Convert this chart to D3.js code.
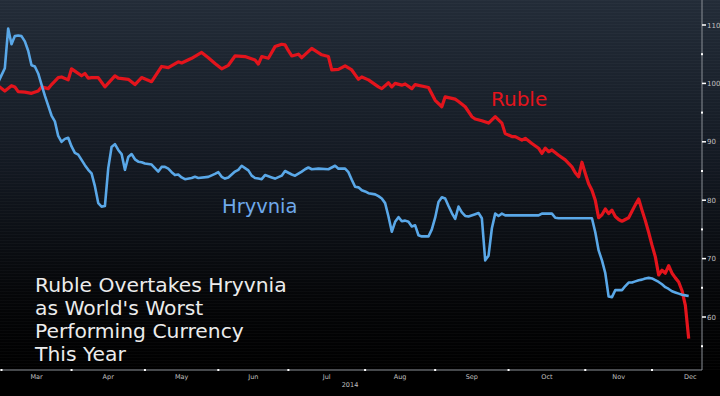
<!DOCTYPE html>
<html>
<head>
<meta charset="utf-8">
<script src="https://cdn.jsdelivr.net/npm/d3@7"></script>
<style>
  html, body { margin: 0; padding: 0; background: #000; }
  svg { display: block; }
</style>
</head>
<body>
<div id="chart"></div>
<script>
// DATA
// daily closes, indexed
const rublePoints = [
    ["2014-02-28", 99.6], ["2014-03-04", 98.7], ["2014-03-06", 99.6], ["2014-03-07", 99.4],
    ["2014-03-10", 98.6], ["2014-03-12", 98.5], ["2014-03-14", 98.3], ["2014-03-18", 98.7],
    ["2014-03-19", 99.4], ["2014-03-21", 99.1], ["2014-03-24", 99.8], ["2014-03-26", 101.0],
    ["2014-03-27", 101.1], ["2014-03-31", 100.6], ["2014-04-01", 102.5], ["2014-04-02", 102.1],
    ["2014-04-04", 101.3], ["2014-04-07", 101.7], ["2014-04-08", 100.9], ["2014-04-09", 101.0],
    ["2014-04-11", 101.0], ["2014-04-15", 99.4], ["2014-04-18", 101.3], ["2014-04-21", 100.9],
    ["2014-04-24", 100.7], ["2014-04-28", 99.8], ["2014-04-30", 101.0], ["2014-05-05", 100.3],
    ["2014-05-08", 102.9], ["2014-05-12", 102.7], ["2014-05-15", 103.7], ["2014-05-16", 103.5],
    ["2014-05-21", 104.3], ["2014-05-26", 105.3], ["2014-05-28", 104.4], ["2014-05-30", 103.4],
    ["2014-06-03", 102.5], ["2014-06-05", 103.1], ["2014-06-09", 104.7], ["2014-06-12", 104.6],
    ["2014-06-17", 104.0], ["2014-06-18", 103.3], ["2014-06-19", 104.6], ["2014-06-23", 104.3],
    ["2014-06-25", 106.3], ["2014-06-27", 106.7], ["2014-06-30", 106.6], ["2014-07-01", 105.6],
    ["2014-07-02", 104.7], ["2014-07-04", 105.0], ["2014-07-07", 104.4], ["2014-07-10", 106.0],
    ["2014-07-15", 104.9], ["2014-07-17", 104.6], ["2014-07-18", 102.3], ["2014-07-22", 102.4],
    ["2014-07-24", 103.0], ["2014-07-28", 102.3], ["2014-07-30", 100.7], ["2014-07-31", 101.1],
    ["2014-08-04", 100.6], ["2014-08-07", 99.4], ["2014-08-08", 99.1], ["2014-08-12", 100.1],
    ["2014-08-13", 99.4], ["2014-08-14", 100.0], ["2014-08-18", 99.7], ["2014-08-19", 99.9],
    ["2014-08-21", 99.1], ["2014-08-22", 99.8], ["2014-08-28", 99.3], ["2014-09-01", 97.1],
    ["2014-09-03", 96.0], ["2014-09-04", 97.7], ["2014-09-09", 97.3], ["2014-09-10", 96.9],
    ["2014-09-12", 96.0], ["2014-09-16", 94.3], ["2014-09-17", 93.9], ["2014-09-19", 93.6],
    ["2014-09-23", 93.2], ["2014-09-25", 94.3], ["2014-09-29", 93.2], ["2014-09-30", 91.4],
    ["2014-10-02", 90.9], ["2014-10-03", 90.9], ["2014-10-07", 90.3], ["2014-10-08", 90.6],
    ["2014-10-10", 89.7], ["2014-10-14", 88.9], ["2014-10-15", 88.0], ["2014-10-16", 88.9],
    ["2014-10-17", 88.3], ["2014-10-20", 88.6], ["2014-10-22", 87.7], ["2014-10-24", 86.9],
    ["2014-10-28", 85.7], ["2014-10-29", 84.7], ["2014-10-30", 84.0], ["2014-10-31", 86.5],
    ["2014-11-03", 84.6], ["2014-11-04", 82.8], ["2014-11-05", 81.7], ["2014-11-06", 80.0],
    ["2014-11-07", 77.0], ["2014-11-10", 77.5], ["2014-11-11", 78.5], ["2014-11-12", 77.7],
    ["2014-11-13", 78.3], ["2014-11-14", 77.2], ["2014-11-17", 76.7], ["2014-11-18", 76.4],
    ["2014-11-19", 76.7], ["2014-11-20", 77.0], ["2014-11-21", 78.1], ["2014-11-24", 79.2],
    ["2014-11-25", 80.2], ["2014-11-26", 78.3], ["2014-11-27", 76.5], ["2014-11-28", 74.5],
    ["2014-12-01", 72.3], ["2014-12-02", 70.3], ["2014-12-03", 67.2], ["2014-12-04", 68.0],
    ["2014-12-05", 67.5], ["2014-12-08", 68.8], ["2014-12-09", 67.5], ["2014-12-10", 66.7],
    ["2014-12-11", 66.0], ["2014-12-12", 64.5], ["2014-12-15", 62.0], ["2014-12-16", 56.3]
];

const hryvniaPoints = [
    ["2014-02-28", 100.2], ["2014-03-04", 102.6], ["2014-03-05", 109.4], ["2014-03-06", 106.7],
    ["2014-03-07", 108.1], ["2014-03-10", 108.2], ["2014-03-11", 108.1], ["2014-03-12", 107.2],
    ["2014-03-13", 105.6], ["2014-03-14", 103.1], ["2014-03-17", 102.9], ["2014-03-18", 101.7],
    ["2014-03-19", 99.8], ["2014-03-20", 97.9], ["2014-03-21", 96.2], ["2014-03-24", 94.5],
    ["2014-03-25", 93.5], ["2014-03-26", 91.0], ["2014-03-27", 90.0], ["2014-03-28", 90.5],
    ["2014-03-31", 90.7], ["2014-04-01", 89.2], ["2014-04-02", 88.1], ["2014-04-03", 87.8],
    ["2014-04-04", 86.9], ["2014-04-07", 86.0], ["2014-04-08", 85.2], ["2014-04-09", 84.6],
    ["2014-04-10", 82.4], ["2014-04-11", 79.5], ["2014-04-14", 78.9], ["2014-04-15", 79.0],
    ["2014-04-16", 85.5], ["2014-04-17", 89.1], ["2014-04-18", 89.6], ["2014-04-21", 88.6],
    ["2014-04-22", 87.9], ["2014-04-23", 85.2], ["2014-04-24", 87.4], ["2014-04-25", 87.9],
    ["2014-04-28", 87.0], ["2014-04-29", 86.6], ["2014-04-30", 86.5], ["2014-05-01", 86.3],
    ["2014-05-05", 86.1], ["2014-05-06", 85.5], ["2014-05-07", 84.9], ["2014-05-08", 85.7],
    ["2014-05-09", 85.7], ["2014-05-12", 85.4], ["2014-05-13", 84.8], ["2014-05-14", 84.3],
    ["2014-05-15", 84.4], ["2014-05-16", 83.9], ["2014-05-19", 83.6], ["2014-05-21", 83.8],
    ["2014-05-22", 84.0], ["2014-05-23", 83.8], ["2014-05-28", 84.0], ["2014-05-30", 84.5],
    ["2014-06-02", 84.8], ["2014-06-03", 84.0], ["2014-06-04", 83.7], ["2014-06-05", 83.9],
    ["2014-06-09", 84.9], ["2014-06-10", 85.2], ["2014-06-11", 85.9], ["2014-06-12", 85.5],
    ["2014-06-13", 85.1], ["2014-06-16", 84.2], ["2014-06-17", 83.8], ["2014-06-18", 83.7],
    ["2014-06-19", 83.6], ["2014-06-20", 84.3], ["2014-06-23", 84.1], ["2014-06-24", 83.9],
    ["2014-06-25", 83.7], ["2014-06-27", 84.2], ["2014-06-30", 85.0], ["2014-07-01", 84.7],
    ["2014-07-02", 84.4], ["2014-07-03", 84.2], ["2014-07-07", 84.9], ["2014-07-08", 85.3],
    ["2014-07-09", 85.6], ["2014-07-10", 85.3], ["2014-07-14", 85.4], ["2014-07-17", 85.3],
    ["2014-07-21", 85.9], ["2014-07-22", 85.4], ["2014-07-24", 85.4], ["2014-07-25", 84.8],
    ["2014-07-28", 83.5], ["2014-07-29", 82.3], ["2014-07-30", 82.2], ["2014-07-31", 81.7],
    ["2014-08-01", 81.5], ["2014-08-04", 81.2], ["2014-08-06", 81.0], ["2014-08-07", 80.7],
    ["2014-08-08", 80.3], ["2014-08-11", 79.5], ["2014-08-12", 77.2], ["2014-08-13", 74.6],
    ["2014-08-14", 76.3], ["2014-08-15", 77.1], ["2014-08-18", 76.4], ["2014-08-19", 76.5],
    ["2014-08-20", 76.3], ["2014-08-21", 75.5], ["2014-08-22", 75.7], ["2014-08-25", 74.0],
    ["2014-08-26", 73.8], ["2014-08-28", 73.8], ["2014-08-29", 75.0], ["2014-09-01", 77.0],
    ["2014-09-02", 79.7], ["2014-09-03", 80.5], ["2014-09-04", 80.3], ["2014-09-05", 79.0],
    ["2014-09-08", 77.8], ["2014-09-09", 76.8], ["2014-09-10", 78.9], ["2014-09-11", 77.9],
    ["2014-09-12", 77.3], ["2014-09-15", 77.2], ["2014-09-17", 77.6], ["2014-09-18", 77.8],
    ["2014-09-19", 76.9], ["2014-09-22", 69.7], ["2014-09-23", 70.5], ["2014-09-24", 75.2],
    ["2014-09-25", 77.7], ["2014-09-26", 77.3], ["2014-09-29", 77.7], ["2014-09-30", 77.4],
    ["2014-10-14", 77.4], ["2014-10-15", 77.7], ["2014-10-20", 77.7], ["2014-10-21", 77.0],
    ["2014-10-22", 76.9], ["2014-11-05", 76.9], ["2014-11-06", 74.5], ["2014-11-07", 71.4],
    ["2014-11-10", 69.7], ["2014-11-11", 67.5], ["2014-11-12", 63.5], ["2014-11-13", 63.4],
    ["2014-11-14", 64.6], ["2014-11-18", 64.6], ["2014-11-19", 65.3], ["2014-11-20", 65.9],
    ["2014-11-21", 65.9], ["2014-11-24", 66.1], ["2014-11-25", 66.3], ["2014-11-26", 66.4],
    ["2014-11-27", 66.6], ["2014-11-28", 66.7], ["2014-12-01", 66.6], ["2014-12-02", 66.3],
    ["2014-12-03", 66.0], ["2014-12-04", 65.6], ["2014-12-05", 65.1], ["2014-12-08", 64.8],
    ["2014-12-09", 64.4], ["2014-12-10", 64.2], ["2014-12-11", 64.0], ["2014-12-12", 63.8],
    ["2014-12-15", 63.7], ["2014-12-16", 63.6]
];

const monthStarts = ["2014-03-01", "2014-04-01", "2014-05-01", "2014-06-01", "2014-07-01",
    "2014-08-01", "2014-09-01", "2014-10-01", "2014-11-01", "2014-12-01", "2015-01-01"];
const monthLabels = ["Mar", "Apr", "May", "Jun", "Jul", "Aug", "Sep", "Oct", "Nov", "Dec"];
const yearLabel = "2014";
const yMajorTicks = [60, 70, 80, 90, 100, 110];
const yMinorTicks = [55, 65, 75, 85, 95, 105];
const titleLines = ["Ruble Overtakes Hryvnia", "as World's Worst", "Performing Currency", "This Year"];

// CHART VARIABLES
const width = 720;
const height = 396;
const plotRight = 702;
const plotBottom = 370;
const font = "DejaVu Sans, sans-serif";

const parseDate = d3.timeParse("%Y-%m-%d");
const t0 = parseDate("2014-03-01");

// count weekdays from Mar 1 (bloomberg plots trading days only)
const isWeekday = d => d.getDay() % 6 !== 0;
function tradingIndex(date) {
    if (date >= t0) return d3.timeDay.range(t0, date).filter(isWeekday).length;
    return -d3.timeDay.range(date, t0).filter(isWeekday).length;
}

const xScale = d3.scaleLinear()
    .domain([0, 195])
    .range([1.5, 652]);
const yScale = d3.scaleLinear()
    .domain([60, 110])
    .range([317, 25]);

const svg = d3.select("#chart")
    .append("svg")
        .attr("width", width)
        .attr("height", height)
        .attr("viewBox", [0, 0, width, height]);

// background gradient
const defs = svg.append("defs");
const grad = defs.append("linearGradient")
    .attr("id", "bg")
    .attr("x1", 0).attr("y1", 0).attr("x2", 0).attr("y2", 1);
grad.append("stop").attr("offset", "0%").attr("stop-color", "#232c38");
grad.append("stop").attr("offset", "45%").attr("stop-color", "#131922");
grad.append("stop").attr("offset", "80%").attr("stop-color", "#050608");
grad.append("stop").attr("offset", "100%").attr("stop-color", "#000000");

// faint scan lines
const pat = defs.append("pattern")
    .attr("id", "scan")
    .attr("width", 4).attr("height", 3)
    .attr("patternUnits", "userSpaceOnUse");
pat.append("rect").attr("width", 4).attr("height", 1).attr("fill", "#ffffff").attr("opacity", 0.025);

defs.append("clipPath").attr("id", "plot-clip")
    .append("rect").attr("x", 0).attr("y", 0).attr("width", plotRight).attr("height", plotBottom);

svg.append("rect").attr("width", width).attr("height", height).attr("fill", "#000");
svg.append("rect").attr("width", width).attr("height", plotBottom).attr("fill", "url(#bg)");
svg.append("rect").attr("width", width).attr("height", plotBottom).attr("fill", "url(#scan)");

// axes
const axisColor = "#8a8f96";
const labelColor = "#c0c0c0";

svg.append("line")
    .attr("x1", 0).attr("x2", plotRight)
    .attr("y1", plotBottom).attr("y2", plotBottom)
    .attr("stroke", axisColor).attr("stroke-width", 1);
svg.append("line")
    .attr("x1", plotRight).attr("x2", plotRight)
    .attr("y1", 0).attr("y2", plotBottom)
    .attr("stroke", axisColor).attr("stroke-width", 1);

const monthX = monthStarts.map(s => xScale(tradingIndex(parseDate(s))));

// month boundary dots
svg.append("g")
    .selectAll("rect")
    .data(monthX.slice(0, 10))
    .join("rect")
        .attr("x", d => d - 1)
        .attr("y", plotBottom - 1)
        .attr("width", 2)
        .attr("height", 2)
        .attr("fill", "#fff");

// month labels, centred in each month
svg.append("g")
    .selectAll("text")
    .data(monthLabels)
    .join("text")
        .attr("x", (d, i) => (monthX[i] + monthX[i + 1]) / 2)
        .attr("y", 379)
        .attr("text-anchor", "middle")
        .attr("fill", labelColor)
        .attr("font-family", font)
        .attr("font-size", 6.5)
        .text(d => d);

svg.append("text")
    .attr("x", 350)
    .attr("y", 387)
    .attr("text-anchor", "middle")
    .attr("fill", labelColor)
    .attr("font-family", font)
    .attr("font-size", 6.5)
    .text(yearLabel);

// right axis ticks
const yAxis = svg.append("g");
yAxis.selectAll("line.major")
    .data(yMajorTicks)
    .join("line")
        .attr("class", "major")
        .attr("x1", plotRight).attr("x2", plotRight + 4)
        .attr("y1", d => yScale(d)).attr("y2", d => yScale(d))
        .attr("stroke", "#fff").attr("stroke-width", 1.5);
yAxis.selectAll("rect.minor")
    .data(yMinorTicks)
    .join("rect")
        .attr("class", "minor")
        .attr("x", plotRight - 1)
        .attr("y", d => yScale(d) - 1)
        .attr("width", 2).attr("height", 2)
        .attr("fill", "#fff");
yAxis.selectAll("text")
    .data(yMajorTicks)
    .join("text")
        .attr("x", plotRight + 5)
        .attr("y", d => yScale(d) + 2.5)
        .attr("fill", labelColor)
        .attr("font-family", font)
        .attr("font-size", 7)
        .text(d => d);

// lines
const line = d3.line()
    .x(d => xScale(tradingIndex(parseDate(d[0]))))
    .y(d => yScale(d[1]));

const lines = svg.append("g").attr("clip-path", "url(#plot-clip)");
lines.append("path")
    .datum(rublePoints)
    .attr("d", line)
    .attr("fill", "none")
    .attr("stroke", "#e3141c")
    .attr("stroke-width", 3.2)
    .attr("stroke-linejoin", "round");
lines.append("path")
    .datum(hryvniaPoints)
    .attr("d", line)
    .attr("fill", "none")
    .attr("stroke", "#5aa8e8")
    .attr("stroke-width", 2.6)
    .attr("stroke-linejoin", "round");

// series labels
svg.append("text")
    .attr("x", 491)
    .attr("y", 106)
    .attr("fill", "#e3141c")
    .attr("font-family", font)
    .attr("font-size", 20)
    .text("Ruble");
svg.append("text")
    .attr("x", 222)
    .attr("y", 213)
    .attr("fill", "#6fa9ea")
    .attr("font-family", font)
    .attr("font-size", 19.5)
    .text("Hryvnia");

// title
svg.append("g")
    .selectAll("text")
    .data(titleLines)
    .join("text")
        .attr("x", 35)
        .attr("y", (d, i) => 292 + i * 23)
        .attr("fill", "#ececec")
        .attr("font-family", font)
        .attr("font-size", 20.3)
        .text(d => d);
</script>
</body>
</html>
